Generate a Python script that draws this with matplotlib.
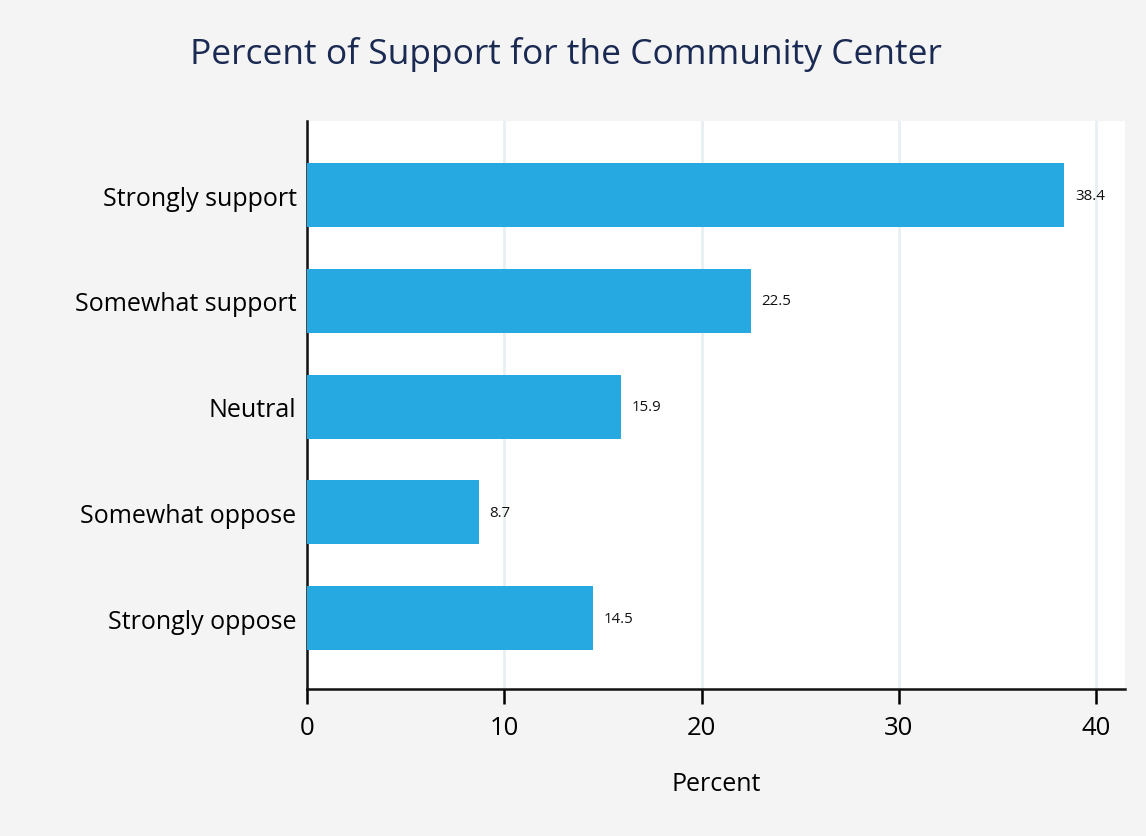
import numpy as np
import matplotlib.pyplot as plt

# Survey responses, top to bottom
responses = ["Strongly support", "Somewhat support", "Neutral",
             "Somewhat oppose", "Strongly oppose"]
percent = [38.4, 22.5, 15.9, 8.7, 14.5]
xticks = [0, 10, 20, 30, 40]

plt.rcParams["font.family"] = ["Open Sans", "DejaVu Sans"]

fig = plt.figure(figsize=(11.46, 8.37), dpi=100, facecolor="#f4f4f4")
ax = fig.add_axes([307 / 1146, 1 - 690 / 837, 818 / 1146, 568 / 837])
ax.set_facecolor("white")

y = np.arange(len(responses))
ax.barh(y, percent, height=0.605, color="#26a9e0", zorder=3)

for yi, v in zip(y, percent):
    ax.text(v + 0.55, yi, f"{v:.1f}", va="center", ha="left", fontsize=10.8,
            color="#111111", zorder=4)

ax.set_xlim(0, 41.47)
ax.set_ylim(len(responses) - 1 + 0.67, -0.70)
ax.set_yticks(y)
ax.set_yticklabels(responses, fontsize=18)
ax.set_xticks(xticks)
ax.set_xticklabels([str(t) for t in xticks], fontsize=18.5)

ax.grid(axis="x", color="#e8f0f1", linewidth=2, zorder=0)
ax.tick_params(axis="y", length=0, pad=7.5)
ax.tick_params(axis="x", length=11, width=1.8, pad=8, direction="out")

for side in ["top", "right"]:
    ax.spines[side].set_visible(False)
for side in ["left", "bottom"]:
    ax.spines[side].set_linewidth(1.8)
    ax.spines[side].set_color("#111111")

ax.set_xlabel("Percent", fontsize=18, labelpad=22)
fig.text(566 / 1146, 1 - 55 / 837, "Percent of Support for the Community Center",
         ha="center", va="center", fontsize=25.5, color="#1a2a52")

fig.savefig("out.png", dpi=100, facecolor=fig.get_facecolor())
